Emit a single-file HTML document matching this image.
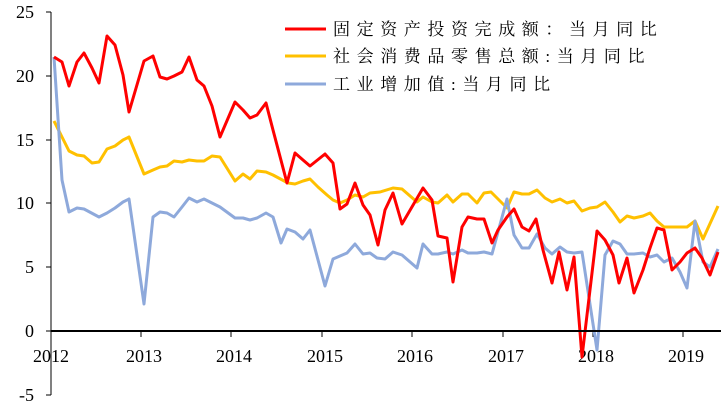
<!DOCTYPE html>
<html><head><meta charset="utf-8"><style>
body{margin:0;background:#fff}
svg{display:block}
.t{font-family:"Liberation Serif",serif;font-size:18px;fill:#000}
.l{font-family:"Liberation Serif","Noto Serif CJK SC",serif;font-size:17px;fill:#000;letter-spacing:6.6px}
</style></head><body>
<svg width="721" height="407" viewBox="0 0 721 407" xmlns="http://www.w3.org/2000/svg">
<g stroke="#000" stroke-width="1">
<line x1="51" y1="12" x2="51" y2="395"/>
<line x1="46" y1="12" x2="51" y2="12"/><line x1="46" y1="76" x2="51" y2="76"/><line x1="46" y1="140" x2="51" y2="140"/><line x1="46" y1="203" x2="51" y2="203"/><line x1="46" y1="267" x2="51" y2="267"/><line x1="46" y1="331" x2="51" y2="331"/><line x1="46" y1="395" x2="51" y2="395"/>
<line x1="51" y1="331" x2="51" y2="337"/><line x1="141" y1="331" x2="141" y2="337"/><line x1="231" y1="331" x2="231" y2="337"/><line x1="322" y1="331" x2="322" y2="337"/><line x1="412" y1="331" x2="412" y2="337"/><line x1="503" y1="331" x2="503" y2="337"/><line x1="593" y1="331" x2="593" y2="337"/><line x1="683" y1="331" x2="683" y2="337"/>
</g>
<g class="t" text-anchor="end">
<text x="34" y="18">25</text><text x="34" y="82">20</text><text x="34" y="146">15</text><text x="34" y="209">10</text><text x="34" y="273">5</text><text x="34" y="337">0</text><text x="34" y="401">-5</text>
</g>
<g class="t" text-anchor="middle">
<text x="51" y="362">2012</text><text x="144" y="362">2013</text><text x="234" y="362">2014</text><text x="325" y="362">2015</text><text x="415" y="362">2016</text><text x="506" y="362">2017</text><text x="596" y="362">2018</text><text x="686" y="362">2019</text>
</g>
<g fill="none" stroke-width="3" stroke-linejoin="round">
<polyline stroke="#FFC000" points="54,121 62,137 69,151 77,155 84,156 92,163 99,162 107,149 115,146 123,140 129,137 144,174 153,170 160,167 167,166 174,161 182,162 189,160 197,161 204,161 212,156 220,157 235,181 243,174 250,179 257,171 266,172 273,175 288,183 295,184 303,181 310,179 318,187 327,195 333,200 340,203 347,200 355,195 363,197 370,193 380,192 393,188 402,189 417,202 423,197 432,202 438,203 447,195 453,202 462,194 468,194 477,203 484,193 491,192 507,208 514,192 522,194 529,194 537,190 545,198 552,202 560,199 567,203 574,201 582,211 590,208 597,207 605,202 613,212 620,222 627,216 634,218 643,216 650,213 657,221 664,227 680,227 687,227 695,221 703,239 718,206"/>
<polyline stroke="#8EA9DB" points="54,57 62,180 69,212 77,208 84,209 99,217 107,213 115,208 123,202 129,199 144,304 153,217 160,212 167,213 174,217 182,207 189,198 197,202 204,199 212,203 220,207 235,218 243,218 250,220 257,218 266,213 273,217 281,243 287,229 295,232 303,239 310,230 325,286 333,259 340,256 347,253 355,244 363,254 370,253 377,258 385,259 393,252 402,255 417,268 423,244 432,254 438,254 447,252 453,254 462,250 468,253 477,253 484,252 492,254 507,199 514,235 522,248 529,248 537,234 545,248 552,254 560,247 567,252 574,253 582,252 597,350 605,255 613,241 620,244 627,254 634,254 643,253 650,257 657,255 664,262 672,258 680,272 687,288 695,221 703,262 710,267 718,249"/>
<polyline stroke="#FF0000" points="54,57 62,62 69,86 77,62 84,53 92,68 99,83 107,36 115,45 123,75 129,112 144,61 153,56 160,77 167,79 174,76 182,72 189,57 197,80 204,86 212,106 220,137 235,102 243,110 250,118 257,115 266,103 273,130 287,183 295,153 303,160 310,166 325,154 333,163 340,209 347,204 355,183 363,205 370,215 378,245 385,210 393,193 402,224 423,188 432,200 438,236 447,238 453,282 462,227 468,217 477,219 484,219 492,243 498,230 507,217 514,209 522,227 529,231 536,219 543,250 552,283 559,252 567,290 574,257 582,357 597,231 605,240 613,255 619,283 627,258 634,293 643,270 650,248 657,228 664,230 672,270 680,262 687,253 695,248 702,258 710,275 718,252"/>
</g>
<line x1="51" y1="331" x2="721" y2="331" stroke="#000" stroke-width="2"/>
<g stroke-width="3">
<line x1="285" y1="29" x2="326" y2="29" stroke="#FF0000"/>
<line x1="285" y1="56" x2="326" y2="56" stroke="#FFC000"/>
<line x1="285" y1="84" x2="326" y2="84" stroke="#8EA9DB"/>
</g>
<text class="l" x="333" y="35">固定资产投资完成额：当月同比</text>
<text class="l" x="333" y="62">社会消费品零售总额:当月同比</text>
<text class="l" x="333" y="90">工业增加值:当月同比</text>
</svg>
</body></html>
